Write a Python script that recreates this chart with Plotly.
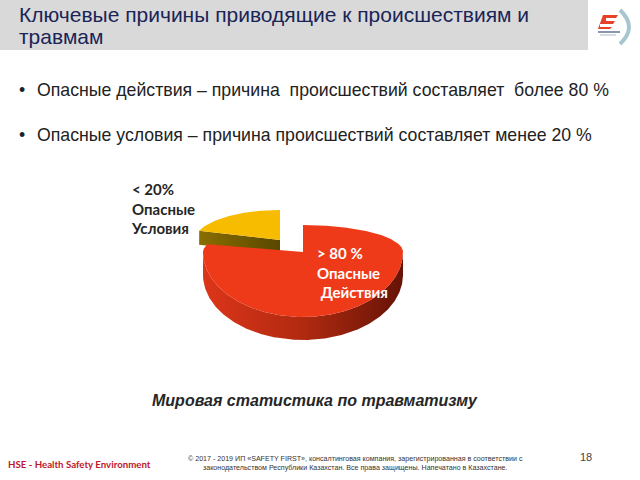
import numpy as np
import plotly.graph_objects as go

# ---- data ----
categories = ["Опасные действия", "Опасные условия"]
values = [80, 20]
slice_labels = ["> 80 %<br>Опасные<br> Действия", "< 20%<br>Опасные<br>Условия"]
title_lines = ["Ключевые причины приводящие к происшествиям и", "травмам"]
bullets = [
    "Опасные действия – причина  происшествий составляет  более 80 %",
    "Опасные условия – причина происшествий составляет менее 20 %",
]
subtitle = "Мировая статистика по травматизму"
footer_left = "HSE - Health Safety Environment"
footer_copy = ("© 2017 - 2019 ИП «SAFETY FIRST», консалтинговая компания, зарегистрированная в соответствии с<br>"
               "законодательством Республики Казахстан. Все права защищены. Напечатано в Казахстане.")
page_no = "18"

# ---- style ----
top_colors = ["#ee3a19", "#f7bb00"]
side_colors = [["#dc3519", "#b02a10", "#661306"], ["#8a6e00", "#6f5800", "#5a4700"]]
offsets = [(0, 0), (-23, -12)]     # explode offset in px
slice_rx = [100, 85]               # perspective-adjusted radii per slice
slice_ryb = [27, 30]
slice_ryf = [65, 65]
slice_h = [23, 14]
CX, CY = 303, 252

def proj(t, cx, cy, rx, ryb, ryf, dz=0.0):
    t = np.asarray(t, dtype=float)
    ry = np.where(np.sin(t) > 0, ryb, ryf)
    return cx + rx * np.cos(t), cy - ry * np.sin(t) + dz

fig = go.Figure()
total = sum(values)
cum = np.concatenate([[0], np.cumsum(values)])
order = [1, 0]  # back slice first
for i in order:
    a0 = np.deg2rad(90 - 360 * cum[i] / total)      # start (larger angle)
    a1 = np.deg2rad(90 - 360 * cum[i + 1] / total)  # end (smaller angle)
    cx, cy = CX + offsets[i][0], CY + offsets[i][1]
    g = (slice_rx[i], slice_ryb[i], slice_ryf[i])
    H = slice_h[i]
    # radial cut faces
    for a, normal in ((a0, a0 + np.pi / 2), (a1, a1 - np.pi / 2)):
        if np.sin(normal) < -0.05:
            px, py = proj([a], cx, cy, *g)
            xs = [cx, px[0], px[0], cx, cx]
            ys = [cy, py[0], py[0] + H, cy + H, cy]
            fig.add_trace(go.Scatter(x=xs, y=ys, fill="toself", mode="lines",
                                     line=dict(width=0),
                                     fillgradient=dict(type="horizontal",
                                                       colorscale=[[0, side_colors[i][0]],
                                                                   [1, side_colors[i][2]]]),
                                     hoverinfo="skip", showlegend=False))
    # outer wall (front part)
    ts = np.linspace(a1, a0, 400)
    front = ts[np.sin(ts) <= 1e-9]
    if len(front) > 1:
        xt, yt = proj(front, cx, cy, *g)
        xb, yb = proj(front[::-1], cx, cy, *g, H)
        fig.add_trace(go.Scatter(x=np.concatenate([xt, xb, xt[:1]]),
                                 y=np.concatenate([yt, yb, yt[:1]]),
                                 fill="toself", mode="lines", line=dict(width=0),
                                 fillgradient=dict(type="horizontal",
                                                   colorscale=[[0, side_colors[i][0]],
                                                               [0.5, side_colors[i][1]],
                                                               [1, side_colors[i][2]]]),
                                 hoverinfo="skip", showlegend=False))
    # top surface
    xa, ya = proj(ts, cx, cy, *g)
    fig.add_trace(go.Scatter(x=np.concatenate([[cx], xa, [cx]]),
                             y=np.concatenate([[cy], ya, [cy]]),
                             fill="toself", mode="lines", line=dict(width=0),
                             fillcolor=top_colors[i], name=categories[i],
                             hoverinfo="skip", showlegend=False))

shapes = [
    dict(type="rect", xref="x", yref="y", x0=0, x1=588, y0=0, y1=50,
         fillcolor="#d9d9d9", line=dict(width=0), layer="below"),
    # logo approximation
    dict(type="path", xref="x", yref="y",
         path="M 620 10 Q 638 27 620 44", line=dict(color="#a8c6cf", width=4)),
    dict(type="path", xref="x", yref="y",
         path="M 603 15 L 618 15 L 616 18 L 606 18 L 606 21 L 615 21 L 613 24 L 600 24 L 600 27 L 612 27 L 610 29 L 598 29 Z",
         fillcolor="#e8412a", line=dict(width=0)),
    dict(type="line", xref="x", yref="y", x0=598, x1=620, y0=32, y1=32, line=dict(color="#3d4f7a", width=1.2)),
    dict(type="line", xref="x", yref="y", x0=600, x1=616, y0=35, y1=35, line=dict(color="#9aa8c0", width=0.8)),
]

ann = []
for k, tl in enumerate(title_lines):
    ann.append(dict(x=17, y=14 + 22 * k, xref="x", yref="y", text=tl, showarrow=False,
                    xanchor="left", yanchor="middle", align="left",
                    font=dict(family="Liberation Sans", size=21, color="#1a2456")))
for k, b in enumerate(bullets):
    yy = 90 + 45 * k
    ann.append(dict(x=17, y=yy, xref="x", yref="y", text="•", showarrow=False,
                    xanchor="left", yanchor="middle",
                    font=dict(family="Liberation Sans", size=17.7, color="#222222")))
    ann.append(dict(x=35, y=yy, xref="x", yref="y", text=b, showarrow=False,
                    xanchor="left", yanchor="middle",
                    font=dict(family="Liberation Sans", size=17.7, color="#222222")))
ann.append(dict(x=129, y=208, xref="x", yref="y", text=slice_labels[1], showarrow=False,
                xanchor="left", yanchor="middle", align="left",
                font=dict(family="Lato", size=15, color="#262626", weight="bold")))
ann.append(dict(x=315, y=272, xref="x", yref="y", text=slice_labels[0], showarrow=False,
                xanchor="left", yanchor="middle", align="left",
                font=dict(family="Lato", size=15, color="#ffffff", weight="bold")))
ann.append(dict(x=315, y=400, xref="x", yref="y", text="<b><i>" + subtitle + "</i></b>", showarrow=False,
                xanchor="center", yanchor="middle",
                font=dict(family="Liberation Sans", size=16, color="#262626")))
ann.append(dict(x=6, y=464, xref="x", yref="y", text="<b>" + footer_left + "</b>", showarrow=False,
                xanchor="left", yanchor="middle",
                font=dict(family="Lato", size=9.7, color="#c0182a")))
ann.append(dict(x=355, y=463, xref="x", yref="y", text=footer_copy, showarrow=False,
                xanchor="center", yanchor="middle", align="center",
                font=dict(family="Liberation Sans", size=7.1, color="#333333")))
ann.append(dict(x=586, y=457, xref="x", yref="y", text=page_no, showarrow=False,
                xanchor="center", yanchor="middle",
                font=dict(family="Liberation Sans", size=11, color="#444444")))

fig.update_layout(
    width=640, height=480, margin=dict(l=0, r=0, t=0, b=0),
    paper_bgcolor="white", plot_bgcolor="white",
    xaxis=dict(range=[0, 640], visible=False, fixedrange=True),
    yaxis=dict(range=[480, 0], visible=False, fixedrange=True),
    shapes=shapes, annotations=ann, showlegend=False,
)
fig.write_html("out.html")
